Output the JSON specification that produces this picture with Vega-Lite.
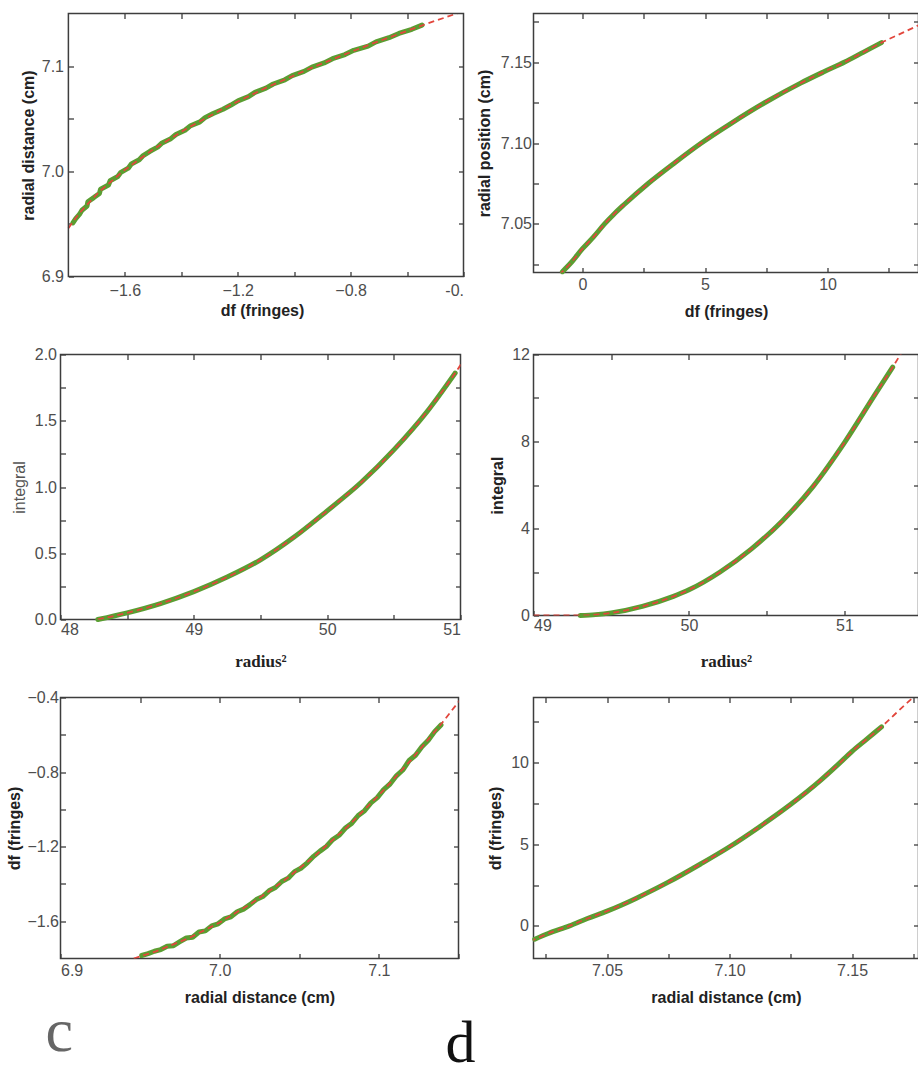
{
  "$schema": "https://vega.github.io/schema/vega-lite/v6.json",
  "padding": {"left": 4.5, "top": 11.5, "right": 0, "bottom": 0},
  "autosize": {"type": "pad"},
  "background": "white",
  "bounds": "flush",
  "columns": 2,
  "spacing": {"row": 78, "column": 70},
  "datasets": {
    "d15": [
      {"r": 6.951, "df": -1.784}, {"r": 6.955, "df": -1.774}, {"r": 6.959, "df": -1.761}, {"r": 6.963, "df": -1.752},
      {"r": 6.967, "df": -1.734}, {"r": 6.971, "df": -1.731}, {"r": 6.975, "df": -1.71}, {"r": 6.979, "df": -1.69},
      {"r": 6.983, "df": -1.686}, {"r": 6.987, "df": -1.658}, {"r": 6.991, "df": -1.652}, {"r": 6.995, "df": -1.625},
      {"r": 6.999, "df": -1.614}, {"r": 7.003, "df": -1.588}, {"r": 7.007, "df": -1.577}, {"r": 7.011, "df": -1.549},
      {"r": 7.015, "df": -1.535}, {"r": 7.019, "df": -1.511}, {"r": 7.023, "df": -1.484}, {"r": 7.027, "df": -1.468},
      {"r": 7.031, "df": -1.437}, {"r": 7.035, "df": -1.419}, {"r": 7.039, "df": -1.387}, {"r": 7.043, "df": -1.369},
      {"r": 7.047, "df": -1.334}, {"r": 7.051, "df": -1.316}, {"r": 7.055, "df": -1.287}, {"r": 7.059, "df": -1.252},
      {"r": 7.063, "df": -1.224}, {"r": 7.067, "df": -1.199}, {"r": 7.071, "df": -1.162}, {"r": 7.075, "df": -1.139},
      {"r": 7.079, "df": -1.1}, {"r": 7.083, "df": -1.074}, {"r": 7.087, "df": -1.033}, {"r": 7.091, "df": -1.007},
      {"r": 7.095, "df": -0.965}, {"r": 7.099, "df": -0.937}, {"r": 7.103, "df": -0.894}, {"r": 7.107, "df": -0.864},
      {"r": 7.111, "df": -0.82}, {"r": 7.115, "df": -0.789}, {"r": 7.119, "df": -0.738}, {"r": 7.123, "df": -0.71},
      {"r": 7.127, "df": -0.664}, {"r": 7.131, "df": -0.629}, {"r": 7.135, "df": -0.583}, {"r": 7.139, "df": -0.547}
    ],
    "f15": [
      {"r": 6.946, "df": -1.8}, {"r": 6.96, "df": -1.762}, {"r": 6.98, "df": -1.693}, {"r": 7.0, "df": -1.607},
      {"r": 7.02, "df": -1.504}, {"r": 7.04, "df": -1.385}, {"r": 7.06, "df": -1.248}, {"r": 7.08, "df": -1.095},
      {"r": 7.1, "df": -0.924}, {"r": 7.12, "df": -0.737}, {"r": 7.14, "df": -0.533}, {"r": 7.155, "df": -0.369}
    ],
    "d26": [
      {"r": 7.0205, "df": -0.82}, {"r": 7.026, "df": -0.47}, {"r": 7.0347, "df": 0.0}, {"r": 7.042, "df": 0.45},
      {"r": 7.05, "df": 0.9}, {"r": 7.056, "df": 1.28}, {"r": 7.062, "df": 1.7}, {"r": 7.075, "df": 2.68},
      {"r": 7.088, "df": 3.78}, {"r": 7.1, "df": 4.85}, {"r": 7.112, "df": 6.05}, {"r": 7.125, "df": 7.45},
      {"r": 7.137, "df": 8.9}, {"r": 7.144, "df": 9.85}, {"r": 7.15, "df": 10.7}, {"r": 7.156, "df": 11.45},
      {"r": 7.162, "df": 12.2}
    ],
    "f26": [
      {"r": 7.0185, "df": -0.95}, {"r": 7.0205, "df": -0.82}, {"r": 7.026, "df": -0.47}, {"r": 7.0347, "df": 0.0},
      {"r": 7.042, "df": 0.45}, {"r": 7.05, "df": 0.9}, {"r": 7.056, "df": 1.28}, {"r": 7.062, "df": 1.7},
      {"r": 7.075, "df": 2.68}, {"r": 7.088, "df": 3.78}, {"r": 7.1, "df": 4.85}, {"r": 7.112, "df": 6.05},
      {"r": 7.125, "df": 7.45}, {"r": 7.137, "df": 8.9}, {"r": 7.144, "df": 9.85}, {"r": 7.15, "df": 10.7},
      {"r": 7.156, "df": 11.45}, {"r": 7.162, "df": 12.2}, {"r": 7.168, "df": 13.05}, {"r": 7.1745, "df": 13.95},
      {"r": 7.18, "df": 14.7}
    ],
    "d3": [
      {"r2": 48.28, "integral": 0.0}, {"r2": 48.5, "integral": 0.05}, {"r2": 48.75, "integral": 0.12},
      {"r2": 49.0, "integral": 0.21}, {"r2": 49.25, "integral": 0.32}, {"r2": 49.5, "integral": 0.45},
      {"r2": 49.75, "integral": 0.62}, {"r2": 50.0, "integral": 0.82}, {"r2": 50.25, "integral": 1.03},
      {"r2": 50.5, "integral": 1.28}, {"r2": 50.75, "integral": 1.57}, {"r2": 50.96, "integral": 1.86}
    ],
    "f3": [
      {"r2": 48.28, "integral": 0.0}, {"r2": 48.5, "integral": 0.05}, {"r2": 48.75, "integral": 0.12},
      {"r2": 49.0, "integral": 0.21}, {"r2": 49.25, "integral": 0.32}, {"r2": 49.5, "integral": 0.45},
      {"r2": 49.75, "integral": 0.62}, {"r2": 50.0, "integral": 0.82}, {"r2": 50.25, "integral": 1.03},
      {"r2": 50.5, "integral": 1.28}, {"r2": 50.75, "integral": 1.57}, {"r2": 50.96, "integral": 1.86},
      {"r2": 51.0, "integral": 1.92}, {"r2": 51.05, "integral": 2.0}
    ],
    "d4": [
      {"r2": 49.3, "integral": 0.0}, {"r2": 49.4, "integral": 0.04}, {"r2": 49.5, "integral": 0.12},
      {"r2": 49.7, "integral": 0.42}, {"r2": 49.9, "integral": 0.88}, {"r2": 50.0, "integral": 1.18},
      {"r2": 50.2, "integral": 2.0}, {"r2": 50.4, "integral": 3.05}, {"r2": 50.6, "integral": 4.35},
      {"r2": 50.8, "integral": 5.95}, {"r2": 51.0, "integral": 7.95}, {"r2": 51.2, "integral": 10.2},
      {"r2": 51.31, "integral": 11.42}
    ],
    "f4": [
      {"r2": 49.0, "integral": 0.0}, {"r2": 49.3, "integral": 0.0}, {"r2": 49.4, "integral": 0.04},
      {"r2": 49.5, "integral": 0.12}, {"r2": 49.7, "integral": 0.42}, {"r2": 49.9, "integral": 0.88},
      {"r2": 50.0, "integral": 1.18}, {"r2": 50.2, "integral": 2.0}, {"r2": 50.4, "integral": 3.05},
      {"r2": 50.6, "integral": 4.35}, {"r2": 50.8, "integral": 5.95}, {"r2": 51.0, "integral": 7.95},
      {"r2": 51.2, "integral": 10.2}, {"r2": 51.31, "integral": 11.42}, {"r2": 51.36, "integral": 12.0},
      {"r2": 51.42, "integral": 12.7}
    ]
  },
  "concat": [
    {
      "width": 403, "height": 263,
      "view": {"stroke": null},
      "layer": [
        {
          "data": {"name": "d15"},
          "mark": {"type": "line", "color": "#5a9e32", "strokeWidth": 5, "strokeCap": "round", "strokeJoin": "round"},
          "encoding": {
            "x": {"field": "df", "type": "quantitative", "scale": {"domain": [-1.828, -0.4], "nice": false, "zero": false},
              "axis": {"values": [-1.6, -1.4, -1.2, -1.0, -0.8, -0.6, -0.4], "labelExpr": "datum.value == -0.4 ? '-0.' : ((datum.value == -1.6 || datum.value == -1.2 || datum.value == -0.8) ? format(datum.value, '.1f') : '')", "title": "df (fringes)", "titleY": 34, "labelPadding": 11}},
            "y": {"field": "r", "type": "quantitative", "scale": {"domain": [6.9, 7.15], "nice": false, "zero": false},
              "axis": {"values": [6.9, 6.95, 7.0, 7.05, 7.1], "labelExpr": "(datum.value == 6.9 || datum.value == 7 || datum.value == 7.1) ? format(datum.value, '.1f') : ''", "title": "radial distance (cm)", "titleX": -40.5, "offset": -8, "labelPadding": 10}},
            "order": {"field": "r", "type": "quantitative"}
          }
        },
        {
          "data": {"name": "f15"},
          "mark": {"type": "line", "color": "#e2463c", "strokeWidth": 1.8, "strokeDash": [6, 4], "clip": true},
          "encoding": {
            "x": {"field": "df", "type": "quantitative", "scale": {"domain": [-1.828, -0.4], "nice": false, "zero": false},
              "axis": {"orient": "top", "labels": false, "title": null, "values": [-1.6, -1.4, -1.2, -1.0, -0.8, -0.6]}},
            "y": {"field": "r", "type": "quantitative", "scale": {"domain": [6.9, 7.15], "nice": false, "zero": false},
              "axis": {"orient": "right", "labels": false, "title": null, "values": [6.95, 7.0, 7.05, 7.1]}},
            "order": {"field": "r", "type": "quantitative"}
          }
        },
        {
          "data": {"values": [{}]},
          "mark": {"type": "rect", "filled": false, "stroke": "#3d3d3d", "strokeWidth": 1.5},
          "encoding": {
            "x": {"datum": -1.8, "type": "quantitative", "axis": null},
            "x2": {"datum": -0.4},
            "y": {"datum": 6.9, "type": "quantitative", "axis": null},
            "y2": {"datum": 7.15}
          }
        }
      ],
      "resolve": {"axis": {"x": "independent", "y": "independent"}}
    },
    {
      "width": 385, "height": 259,
      "layer": [
        {
          "data": {"name": "d26"},
          "mark": {"type": "line", "color": "#5a9e32", "strokeWidth": 5, "strokeCap": "round", "interpolate": "monotone"},
          "encoding": {
            "x": {"field": "df", "type": "quantitative", "scale": {"domain": [-2, 13.71], "nice": false, "zero": false},
              "axis": {"values": [0, 2.5, 5, 7.5, 10, 12.5], "labelExpr": "datum.value % 5 == 0 ? format(datum.value, 'd') : ''", "title": "df (fringes)", "titleY": 39, "labelPadding": 9}},
            "y": {"field": "r", "type": "quantitative", "scale": {"domain": [7.02, 7.18], "nice": false, "zero": false},
              "axis": {"values": [7.025, 7.05, 7.075, 7.1, 7.125, 7.15, 7.175], "labelExpr": "(datum.value == 7.05 || datum.value == 7.1 || datum.value == 7.15) ? format(datum.value, '.2f') : ''", "title": "radial position (cm)", "titleX": -49, "labelPadding": 7}}
          }
        },
        {
          "data": {"name": "f26"},
          "mark": {"type": "line", "color": "#e2463c", "strokeWidth": 1.8, "strokeDash": [6, 4], "clip": true, "interpolate": "monotone"},
          "encoding": {
            "x": {"field": "df", "type": "quantitative", "scale": {"domain": [-2, 13.71], "nice": false, "zero": false},
              "axis": {"orient": "top", "labels": false, "title": null, "values": [0, 2.5, 5, 7.5, 10, 12.5]}},
            "y": {"field": "r", "type": "quantitative", "scale": {"domain": [7.02, 7.18], "nice": false, "zero": false},
              "axis": {"orient": "right", "labels": false, "title": null, "values": [7.025, 7.05, 7.075, 7.1, 7.125, 7.15, 7.175]}}
          }
        }
      ],
      "resolve": {"axis": {"x": "independent", "y": "independent"}}
    },
    {
      "width": 400, "height": 265,
      "layer": [
        {
          "data": {"name": "d3"},
          "mark": {"type": "line", "color": "#5a9e32", "strokeWidth": 5, "strokeCap": "round", "interpolate": "monotone"},
          "encoding": {
            "x": {"field": "r2", "type": "quantitative", "scale": {"domain": [48, 51], "nice": false, "zero": false},
              "axis": {"values": [48, 48.5, 49, 49.5, 50, 50.5, 51], "labelExpr": "datum.value % 1 == 0 ? format(datum.value, 'd') : ''", "title": "radius²", "titleFont": "Liberation Serif", "titleFontSize": 17, "titleY": 42, "labelPadding": 7}},
            "y": {"field": "integral", "type": "quantitative", "scale": {"domain": [0, 2], "nice": false, "zero": false},
              "axis": {"values": [0, 0.25, 0.5, 0.75, 1, 1.25, 1.5, 1.75, 2], "labelExpr": "datum.value % 0.5 == 0 ? format(datum.value, '.1f') : ''", "title": "integral", "titleFontWeight": "normal", "titleColor": "#555555", "titleX": -41.5, "labelPadding": 9}}
          }
        },
        {
          "data": {"name": "f3"},
          "mark": {"type": "line", "color": "#e2463c", "strokeWidth": 1.8, "strokeDash": [6, 4], "clip": true, "interpolate": "monotone"},
          "encoding": {
            "x": {"field": "r2", "type": "quantitative", "scale": {"domain": [48, 51], "nice": false, "zero": false},
              "axis": {"orient": "top", "labels": false, "title": null, "values": [48.5, 49, 49.5, 50, 50.5]}},
            "y": {"field": "integral", "type": "quantitative", "scale": {"domain": [0, 2], "nice": false, "zero": false},
              "axis": {"orient": "right", "labels": false, "title": null, "values": [0.25, 0.5, 0.75, 1, 1.25, 1.5, 1.75]}}
          }
        }
      ],
      "resolve": {"axis": {"x": "independent", "y": "independent"}}
    },
    {
      "width": 385, "height": 261,
      "layer": [
        {
          "data": {"name": "d4"},
          "mark": {"type": "line", "color": "#5a9e32", "strokeWidth": 5, "strokeCap": "round", "interpolate": "monotone"},
          "encoding": {
            "x": {"field": "r2", "type": "quantitative", "scale": {"domain": [49, 51.476], "nice": false, "zero": false},
              "axis": {"values": [49, 49.5, 50, 50.5, 51], "labelExpr": "datum.value % 1 == 0 ? format(datum.value, 'd') : ''", "title": "radius²", "titleFont": "Liberation Serif", "titleFontSize": 17, "titleY": 46, "labelPadding": 7}},
            "y": {"field": "integral", "type": "quantitative", "scale": {"domain": [0, 12], "nice": false, "zero": false},
              "axis": {"values": [0, 2, 4, 6, 8, 10, 12], "labelExpr": "datum.value % 4 == 0 ? format(datum.value, 'd') : ''", "title": "integral", "titleX": -36.5, "labelPadding": 9}}
          }
        },
        {
          "data": {"name": "f4"},
          "mark": {"type": "line", "color": "#e2463c", "strokeWidth": 1.8, "strokeDash": [6, 4], "clip": true, "interpolate": "monotone"},
          "encoding": {
            "x": {"field": "r2", "type": "quantitative", "scale": {"domain": [49, 51.476], "nice": false, "zero": false},
              "axis": {"orient": "top", "labels": false, "title": null, "values": [49.5, 50, 50.5, 51]}},
            "y": {"field": "integral", "type": "quantitative", "scale": {"domain": [0, 12], "nice": false, "zero": false},
              "axis": {"orient": "right", "labels": false, "title": null, "values": [2, 4, 6, 8, 10]}}
          }
        }
      ],
      "resolve": {"axis": {"x": "independent", "y": "independent"}}
    },
    {
      "width": 398, "height": 261,
      "title": {"text": "c", "orient": "bottom", "anchor": "start", "frame": "group", "font": "Liberation Serif", "fontSize": 62, "fontWeight": "normal", "color": "#666666", "dx": -15, "offset": -3},
      "layer": [
        {
          "data": {"name": "d15"},
          "mark": {"type": "line", "color": "#5a9e32", "strokeWidth": 5, "strokeCap": "round", "strokeJoin": "round"},
          "encoding": {
            "x": {"field": "r", "type": "quantitative", "scale": {"domain": [6.9, 7.15], "nice": false, "zero": false},
              "axis": {"values": [6.9, 6.95, 7.0, 7.05, 7.1, 7.15], "labelExpr": "(datum.value == 6.9 || datum.value == 7 || datum.value == 7.1) ? format(datum.value, '.1f') : ''", "title": "radial distance (cm)", "titleY": 38.5, "labelPadding": 9}},
            "y": {"field": "df", "type": "quantitative", "scale": {"domain": [-1.8, -0.4], "nice": false, "zero": false},
              "axis": {"values": [-1.6, -1.4, -1.2, -1.0, -0.8, -0.6, -0.4], "labelExpr": "(datum.value == -1.6 || datum.value == -1.2 || datum.value == -0.8 || datum.value == -0.4) ? format(datum.value, '.1f') : ''", "title": "df (fringes)", "titleX": -46.5, "labelPadding": 7}},
            "order": {"field": "r", "type": "quantitative"}
          }
        },
        {
          "data": {"name": "f15"},
          "mark": {"type": "line", "color": "#e2463c", "strokeWidth": 1.8, "strokeDash": [6, 4], "clip": true},
          "encoding": {
            "x": {"field": "r", "type": "quantitative", "scale": {"domain": [6.9, 7.15], "nice": false, "zero": false},
              "axis": {"orient": "top", "labels": false, "title": null, "values": [6.95, 7.0, 7.05, 7.1]}},
            "y": {"field": "df", "type": "quantitative", "scale": {"domain": [-1.8, -0.4], "nice": false, "zero": false},
              "axis": {"orient": "right", "labels": false, "title": null, "values": [-1.6, -1.4, -1.2, -1.0, -0.8, -0.6]}},
            "order": {"field": "r", "type": "quantitative"}
          }
        }
      ],
      "resolve": {"axis": {"x": "independent", "y": "independent"}}
    },
    {
      "width": 385, "height": 261,
      "title": {"text": "d", "orient": "bottom", "anchor": "start", "frame": "group", "font": "Liberation Serif", "fontSize": 60, "fontWeight": "normal", "color": "#111111", "dx": -88, "offset": 9},
      "layer": [
        {
          "data": {"name": "d26"},
          "mark": {"type": "line", "color": "#5a9e32", "strokeWidth": 5, "strokeCap": "round", "interpolate": "monotone"},
          "encoding": {
            "x": {"field": "r", "type": "quantitative", "scale": {"domain": [7.02, 7.1771], "nice": false, "zero": false},
              "axis": {"values": [7.025, 7.05, 7.075, 7.1, 7.125, 7.15, 7.175], "labelExpr": "(datum.value == 7.05 || datum.value == 7.1 || datum.value == 7.15) ? format(datum.value, '.2f') : ''", "title": "radial distance (cm)", "titleY": 39, "labelPadding": 9}},
            "y": {"field": "df", "type": "quantitative", "scale": {"domain": [-2, 14], "nice": false, "zero": false},
              "axis": {"values": [0, 2.5, 5, 7.5, 10, 12.5], "labelExpr": "datum.value % 5 == 0 ? format(datum.value, 'd') : ''", "title": "df (fringes)", "titleX": -38, "labelPadding": 10}}
          }
        },
        {
          "data": {"name": "f26"},
          "mark": {"type": "line", "color": "#e2463c", "strokeWidth": 1.8, "strokeDash": [6, 4], "clip": true, "interpolate": "monotone"},
          "encoding": {
            "x": {"field": "r", "type": "quantitative", "scale": {"domain": [7.02, 7.1771], "nice": false, "zero": false},
              "axis": {"orient": "top", "labels": false, "title": null, "values": [7.025, 7.05, 7.075, 7.1, 7.125, 7.15, 7.175]}},
            "y": {"field": "df", "type": "quantitative", "scale": {"domain": [-2, 14], "nice": false, "zero": false},
              "axis": {"orient": "right", "labels": false, "title": null, "values": [0, 2.5, 5, 7.5, 10, 12.5]}}
          }
        }
      ],
      "resolve": {"axis": {"x": "independent", "y": "independent"}}
    }
  ],
  "config": {
    "view": {"stroke": "#3d3d3d", "strokeWidth": 1.5},
    "axis": {
      "domain": false, "grid": false,
      "labelFont": "Liberation Sans", "labelFontSize": 16, "labelColor": "#4d4d4d",
      "titleFont": "Liberation Sans", "titleFontSize": 16, "titleFontWeight": "bold", "titleColor": "#222222",
      "titleBaseline": "middle",
      "tickColor": "#3d3d3d", "tickWidth": 1.3, "tickSize": -5,
      "labelOverlap": false, "labelBound": false
    }
  }
}
